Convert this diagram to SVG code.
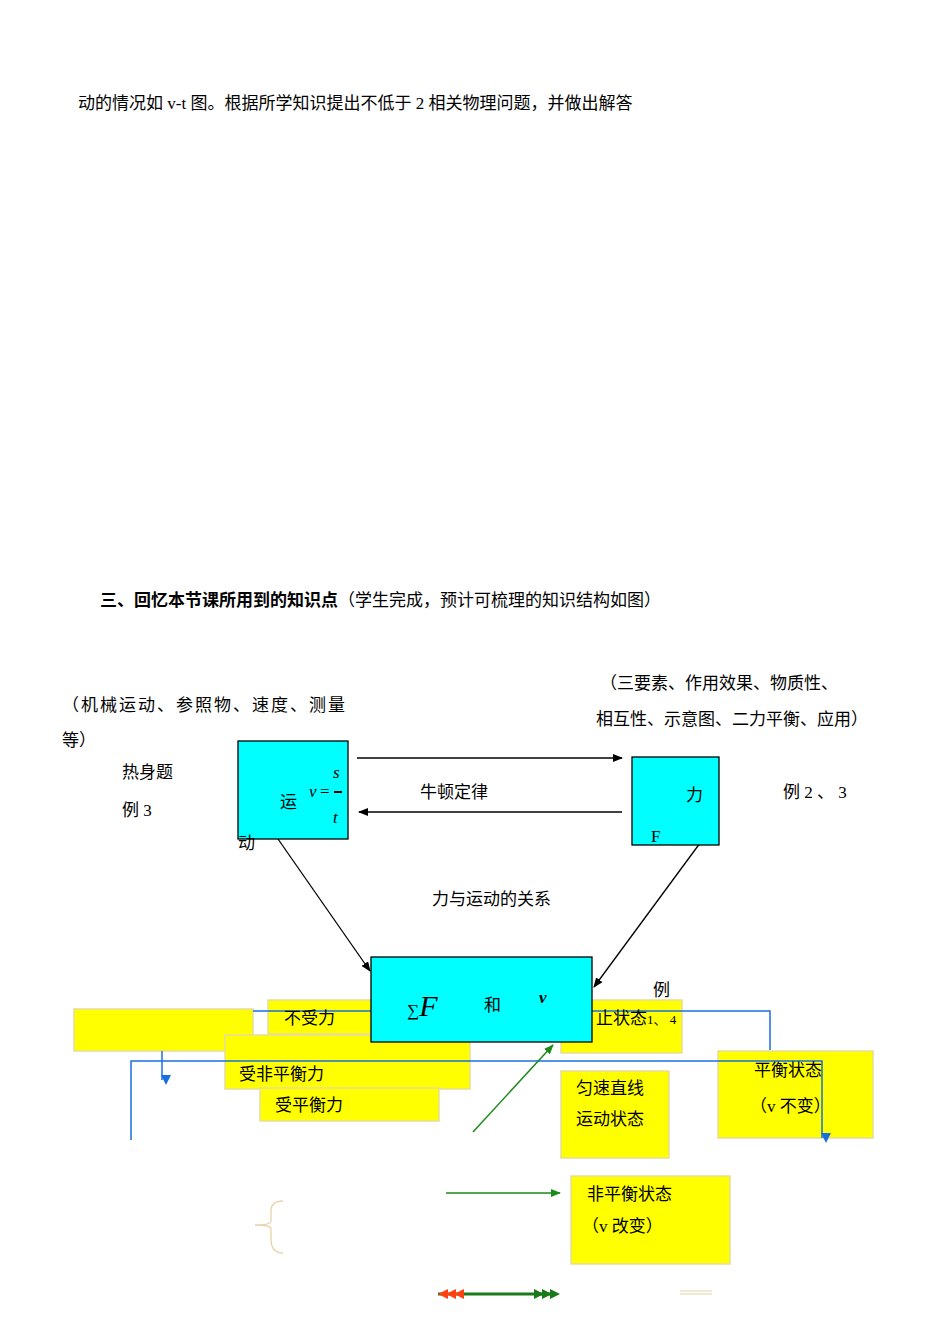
<svg xmlns="http://www.w3.org/2000/svg" width="950" height="1342" viewBox="0 0 950 1342">
<defs>
<style>
text{font-family:"Liberation Serif","Noto Sans CJK SC",serif;font-size:17px;fill:#000}
.y{fill:#ffff00;stroke:#e6dc9a;stroke-width:1.5}
.c{fill:#00ffff;stroke:#000;stroke-width:1.3}
.k{stroke:#000;stroke-width:1.3;fill:none}
.b{stroke:#1a6fe0;stroke-width:1.5;fill:none}
.g{stroke:#1a8a1a;stroke-width:1.5;fill:none}
</style>
<marker id="ak" markerWidth="10" markerHeight="8" refX="9" refY="4" orient="auto" markerUnits="userSpaceOnUse"><path d="M0,0L10,4L0,8z" fill="#000"/></marker>
<marker id="ab" markerWidth="10" markerHeight="10" refX="5" refY="9" orient="auto-start-reverse" markerUnits="userSpaceOnUse"><path d="M0,0L10,0L5,10z" fill="#1a6fe0" transform="rotate(-90 5 5)"/></marker>
<marker id="ag" markerWidth="10" markerHeight="8" refX="9" refY="4" orient="auto" markerUnits="userSpaceOnUse"><path d="M0,0L10,4L0,8z" fill="#1a8a1a"/></marker>
</defs>
<rect width="950" height="1342" fill="#fff"/>
<text x="78" y="109">动的情况如 v-t 图。根据所学知识提出不低于 2 相关物理问题，并做出解答</text>
<text x="100" y="606" font-size="20" font-weight="bold">三、回忆本节课所用到的知识点<tspan font-size="17" font-weight="normal">（学生完成，预计可梳理的知识结构如图）</tspan></text>
<text x="600" y="689">（三要素、作用效果、物质性、</text>
<text x="596" y="725">相互性、示意图、二力平衡、应用）</text>
<text x="62" y="711" letter-spacing="2">（机械运动、参照物、速度、测量</text>
<text x="62" y="746">等）</text>
<text x="122" y="778">热身题</text>
<text x="122" y="816">例 3</text>
<text x="783" y="798" font-size="15">例 2 、 3</text>
<text x="420" y="798">牛顿定律</text>
<text x="432" y="905">力与运动的关系</text>
<g id="boxes-yellow">
<rect class="y" x="74" y="1009" width="179" height="42"/>
<rect class="y" x="268" y="1000" width="110" height="34"/>
<rect class="y" x="561" y="1000" width="121" height="53"/>
<rect class="y" x="225" y="1035" width="245" height="54"/>
<rect class="y" x="260" y="1088" width="179" height="33"/>
<rect class="y" x="561" y="1071" width="108" height="87"/>
<rect class="y" x="718" y="1051" width="155" height="87"/>
<rect class="y" x="571" y="1176" width="159" height="88"/>
</g>
<g id="connectors">
<path class="b" d="M253,1011H770V1050"/>
<path class="b" d="M131,1140V1061H822V1138" marker-end="url(#ab)"/>
<path class="b" d="M162,1051V1080" marker-end="url(#ab)"/>
<line class="k" x1="357" y1="758" x2="622" y2="758" marker-end="url(#ak)"/>
<line class="k" x1="622" y1="812" x2="359" y2="812" marker-end="url(#ak)"/>
<line class="k" x1="278" y1="839" x2="370" y2="971" marker-end="url(#ak)"/>
<line class="k" x1="703" y1="839" x2="594" y2="987" marker-end="url(#ak)"/>
<line class="g" x1="473" y1="1132" x2="553" y2="1045" marker-end="url(#ag)"/>
<line class="g" x1="446" y1="1193" x2="560" y2="1193" marker-end="url(#ag)"/>
<line x1="438" y1="1294" x2="555" y2="1294" stroke="#1a7a1a" stroke-width="3"/>
<path d="M438,1294l10,-5v10zM446,1294l10,-5v10zM454,1294l10,-5v10z" fill="#ff4010"/>
<path d="M560,1294l-10,-5v10zM552,1294l-10,-5v10zM544,1294l-10,-5v10z" fill="#1a7a1a"/>
<path d="M283,1201q-12,0 -12,10v10q0,4 -16,4q16,0 16,4v10q0,14 12,14" stroke="#e6d4a8" stroke-width="1.3" fill="none"/>
<path d="M680,1291h32M680,1294h32" stroke="#e6d4a8" stroke-width="1.2"/>
</g>
<g id="node-motion">
<rect class="c" x="238" y="741" width="110" height="98"/>
<text x="280" y="808">运</text>
<text x="238" y="849">动</text>
<text x="309" y="797" font-style="italic" font-size="16">v</text>
<text x="320" y="797" font-size="16">=</text>
<text x="333" y="778" font-style="italic" font-size="15">s</text>
<line x1="334" y1="792" x2="342" y2="792" stroke="#000" stroke-width="2"/>
<text x="333" y="823" font-style="italic" font-size="15">t</text>
</g>
<g id="node-force">
<rect class="c" x="632" y="757" width="87" height="88"/>
<text x="686" y="801" font-size="20">力</text>
<text x="651" y="842">F</text>
</g>
<g id="node-relation">
<rect class="c" x="371" y="957" width="221" height="85"/>
<text x="407" y="1016" font-size="38">∑<tspan font-style="italic" font-size="30">F</tspan></text>
<text x="484" y="1011">和</text>
<text x="539" y="1003" font-size="30" font-weight="bold" font-style="italic">v</text>
</g>
<g id="labels">
<text x="284" y="1024">不受力</text>
<text x="239" y="1080" font-size="20">受非平衡力</text>
<text x="275" y="1111">受平衡力</text>
<text x="653" y="996" font-size="12">例</text>
<text x="596" y="1024">止状态<tspan font-size="13">1、 4</tspan></text>
<text x="576" y="1094">匀速直线</text>
<text x="576" y="1125">运动状态</text>
<text x="754" y="1076" font-size="20">平衡状态</text>
<text x="750" y="1112" font-size="20">（v 不变）</text>
<text x="587" y="1200">非平衡状态</text>
<text x="582" y="1232">（v 改变）</text>
</g>
</svg>
